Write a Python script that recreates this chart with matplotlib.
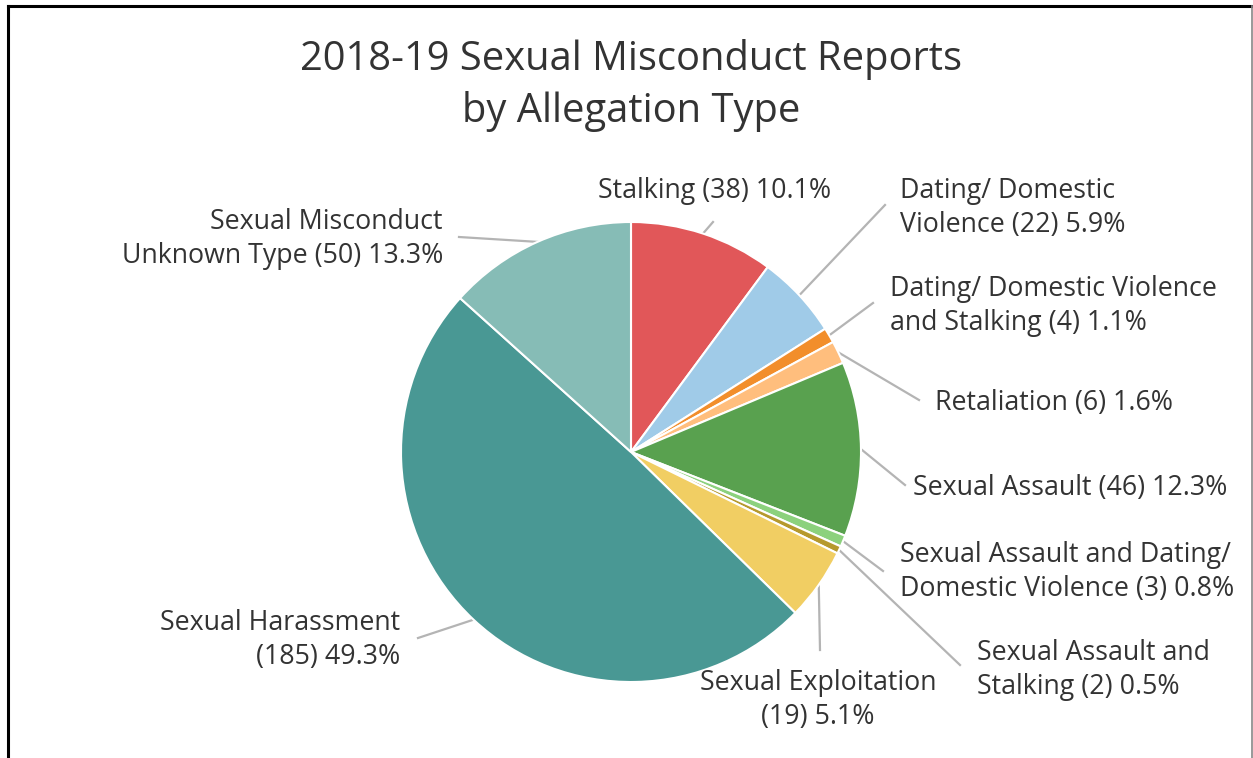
import numpy as np
import matplotlib
matplotlib.use("Agg")
import matplotlib.pyplot as plt
from matplotlib.lines import Line2D

plt.rcParams['font.family'] = ['Open Sans', 'DejaVu Sans']

title_lines = ["2018-19 Sexual Misconduct Reports", "by Allegation Type"]
categories = ["Stalking", "Dating/ Domestic Violence", "Dating/ Domestic Violence and Stalking",
              "Retaliation", "Sexual Assault", "Sexual Assault and Dating/ Domestic Violence",
              "Sexual Assault and Stalking", "Sexual Exploitation", "Sexual Harassment",
              "Sexual Misconduct Unknown Type"]
counts = [38, 22, 4, 6, 46, 3, 2, 19, 185, 50]
label_texts = ["Stalking (38) 10.1%",
               "Dating/ Domestic\nViolence (22) 5.9%",
               "Dating/ Domestic Violence\nand Stalking (4) 1.1%",
               "Retaliation (6) 1.6%",
               "Sexual Assault (46) 12.3%",
               "Sexual Assault and Dating/\nDomestic Violence (3) 0.8%",
               "Sexual Assault and\nStalking (2) 0.5%",
               "Sexual Exploitation\n(19) 5.1%",
               "Sexual Harassment\n(185) 49.3%",
               "Sexual Misconduct\nUnknown Type (50) 13.3%"]
colors = ["#E15759", "#A0CBE8", "#F28E2B", "#FFBE7D", "#59A14F", "#8CD17D",
          "#B6992D", "#F1CE63", "#499894", "#86BCB6"]

W, H = 1253, 758
CX, CY, R = 631, 452, 230

fig = plt.figure(figsize=(W / 100, H / 100), dpi=100)
ax = fig.add_axes([(CX - R) / W, (H - CY - R) / H, 2 * R / W, 2 * R / H])
ax.pie(counts, colors=colors, startangle=90, counterclock=False, radius=1,
       wedgeprops=dict(edgecolor='white', linewidth=1.5))
ax.set_xlim(-1, 1)
ax.set_ylim(-1, 1)
ax.set_aspect('equal')
ax.axis('off')

def px(x, y):
    return ((x - CX) / R, (CY - y) / R)

# label layout: (leader end x,y), (text x,y), ha
layout = [
    ((713, 222), (715, 191), 'center'),
    ((885, 205), (900, 208), 'left'),
    ((873, 303), (890, 306), 'left'),
    ((919, 400), (935, 403), 'left'),
    ((905, 485), (913, 488), 'left'),
    ((883, 571), (900, 572), 'left'),
    ((960, 665), (977, 670), 'left'),
    ((820, 650), (818, 700), 'center'),
    ((418, 638), (400, 640), 'right'),
    ((459, 237), (443, 239), 'right'),
]

total = sum(counts)
cum = 0
for cnt, txt, (lend, tpos, ha) in zip(counts, label_texts, layout):
    mid = (cum + cnt / 2) / total * 2 * np.pi
    cum += cnt
    sx, sy = np.sin(mid), np.cos(mid)
    ex, ey = px(*lend)
    ax.plot([sx, ex], [sy, ey], color='#b4b4b4', lw=1.6, clip_on=False, zorder=0)
    tx, ty = px(*tpos)
    ax.text(tx, ty, txt, ha=ha, va='center', fontsize=19.3, color='#333333',
            linespacing=1.33, multialignment=ha, clip_on=False)

for i, line in enumerate(title_lines):
    fig.text(CX / W, 1 - (70 + 52 * i) / H, line, ha='center', va='baseline',
             fontsize=28.7, color='#333333')

# outer frame
fig.add_artist(Line2D([8 / W, 8 / W], [0, 1 - 6 / H], color='black', lw=2.2))
fig.add_artist(Line2D([8 / W, 1], [1 - 6 / H, 1 - 6 / H], color='black', lw=2.2))
fig.add_artist(Line2D([1251.5 / W, 1251.5 / W], [0, 1 - 6 / H], color='#888888', lw=1.2))

fig.savefig("out.png", dpi=100, facecolor='white')
